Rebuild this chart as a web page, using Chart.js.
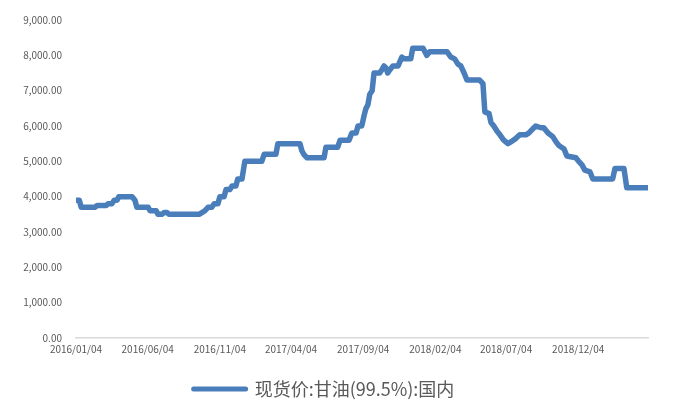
<!DOCTYPE html>
<html><head><meta charset="utf-8">
<script src="https://cdn.jsdelivr.net/npm/chart.js@4/dist/chart.umd.min.js"></script>
<style>html,body{margin:0;padding:0;background:#fff}#wrap{width:676px;height:403px}</style>
</head><body><div id="wrap"><canvas id="c" width="676" height="403"></canvas></div>
<script>
const seriesName = '现货价:甘油(99.5%):国内';
const dates = [
 '2016/01/04','2016/01/11','2016/01/15','2016/02/13','2016/02/18','2016/03/08','2016/03/12','2016/03/20','2016/03/25','2016/03/31',
 '2016/04/04','2016/05/02','2016/05/08','2016/05/12','2016/06/05','2016/06/09','2016/06/22','2016/06/26','2016/07/04','2016/07/09',
 '2016/07/15','2016/07/19','2016/09/21','2016/09/27','2016/10/03','2016/10/10','2016/10/18','2016/10/23','2016/10/31','2016/11/04',
 '2016/11/13','2016/11/17','2016/11/25','2016/11/30','2016/12/08','2016/12/12','2016/12/21','2016/12/27','2017/02/01','2017/02/06',
 '2017/03/03','2017/03/07','2017/04/23','2017/04/27','2017/05/01','2017/05/08','2017/06/13','2017/06/17','2017/07/12','2017/07/17',
 '2017/08/05','2017/08/11','2017/08/20','2017/08/24','2017/09/01','2017/09/06','2017/09/10','2017/09/14','2017/09/18','2017/09/23',
 '2017/09/27','2017/10/09','2017/10/14','2017/10/18','2017/10/22','2017/10/26','2017/10/31','2017/11/06','2017/11/17','2017/11/25',
 '2017/11/29','2017/12/14','2017/12/18','2018/01/09','2018/01/17','2018/01/23','2018/03/01','2018/03/09','2018/03/17','2018/03/24',
 '2018/03/30','2018/04/06','2018/04/12','2018/05/09','2018/05/16','2018/05/20','2018/05/29','2018/06/02','2018/06/08','2018/06/15',
 '2018/06/21','2018/06/29','2018/07/08','2018/07/14','2018/07/25','2018/08/02','2018/08/15','2018/08/21','2018/09/01','2018/09/05',
 '2018/09/16','2018/09/22','2018/10/01','2018/10/11','2018/10/18','2018/10/24','2018/11/04','2018/11/10','2018/11/29','2018/12/05',
 '2018/12/12','2018/12/18','2018/12/29','2019/01/04','2019/02/15','2019/02/20','2019/03/11','2019/03/17','2019/05/01'
];
const values = [
 3900,3900,3700,3700,3750,3750,3800,3800,3900,3900,
 4000,4000,3900,3700,3700,3600,3600,3500,3500,3550,
 3550,3500,3500,3550,3600,3700,3700,3800,3800,4000,
 4000,4200,4200,4300,4300,4500,4500,5000,5000,5200,
 5200,5500,5500,5300,5200,5100,5100,5400,5400,5600,
 5600,5800,5800,6000,6000,6300,6500,6600,6900,7000,
 7500,7500,7600,7700,7650,7500,7600,7700,7700,7950,
 7900,7900,8200,8200,8000,8100,8100,7950,7900,7750,
 7700,7500,7300,7300,7200,6400,6350,6100,6000,5850,
 5750,5600,5500,5550,5650,5750,5750,5800,5950,6000,
 5950,5950,5800,5700,5550,5450,5350,5150,5100,5000,
 4900,4750,4700,4500,4500,4800,4800,4250,4250
];
const xTickLabels = ['2016/01/04','2016/06/04','2016/11/04','2017/04/04','2017/09/04','2018/02/04','2018/07/04','2018/12/04'];
const yTickValues = [0,1000,2000,3000,4000,5000,6000,7000,8000,9000];

const lineColor = '#4A7EBB';
const textColor = '#595959';
const cjk = '"Noto Sans CJK SC", "Noto Sans", sans-serif';

function dayOf(s){const [y,m,d]=s.split('/').map(Number);return (Date.UTC(y,m-1,d)-Date.UTC(2016,0,4))/86400000;}
const points = dates.map((d,i)=>({x:dayOf(d), y:values[i]}));

new Chart(document.getElementById('c'), {
  type:'line',
  data:{datasets:[{label:seriesName,data:points,borderColor:lineColor,backgroundColor:lineColor,borderWidth:5.5,
    pointRadius:0,tension:0,fill:false,borderJoinStyle:'round',borderCapStyle:'round'}]},
  options:{
    responsive:false, animation:false, devicePixelRatio:1,
    layout:{padding:{left:0,right:28,top:14,bottom:-5}},
    plugins:{
      tooltip:{enabled:false},
      legend:{position:'bottom',
        labels:{usePointStyle:true,pointStyleWidth:52,padding:6,color:textColor,font:{family:cjk,size:18},
          generateLabels:()=>[{text:seriesName,fillStyle:lineColor,strokeStyle:lineColor,lineWidth:5,lineCap:'round',pointStyle:'line',datasetIndex:0,fontColor:textColor,hidden:false}]}}
    },
    scales:{
      x:{type:'linear',min:dayOf(xTickLabels[0]),max:dayOf(dates[dates.length-1]),
        grid:{display:false,drawTicks:false},border:{display:true,color:'#D9D9D9',width:1.5},
        afterBuildTicks:(s)=>{s.ticks=xTickLabels.map(l=>({value:dayOf(l)}));},
        afterFit:(s)=>{s.height=36;},
        ticks:{autoSkip:false,maxRotation:0,padding:5,color:textColor,font:{family:cjk,size:10},callback:(v,i)=>xTickLabels[i]}},
      y:{min:0,max:9000,grid:{display:false,drawTicks:false},border:{display:false},
        afterBuildTicks:(s)=>{s.ticks=yTickValues.map(v=>({value:v}));},
        afterFit:(s)=>{s.width=76;},
        ticks:{padding:14,color:textColor,font:{family:cjk,size:10},
          callback:(v)=>v.toLocaleString('en-US',{minimumFractionDigits:2,maximumFractionDigits:2})}}
    }
  }
});
</script></body></html>
